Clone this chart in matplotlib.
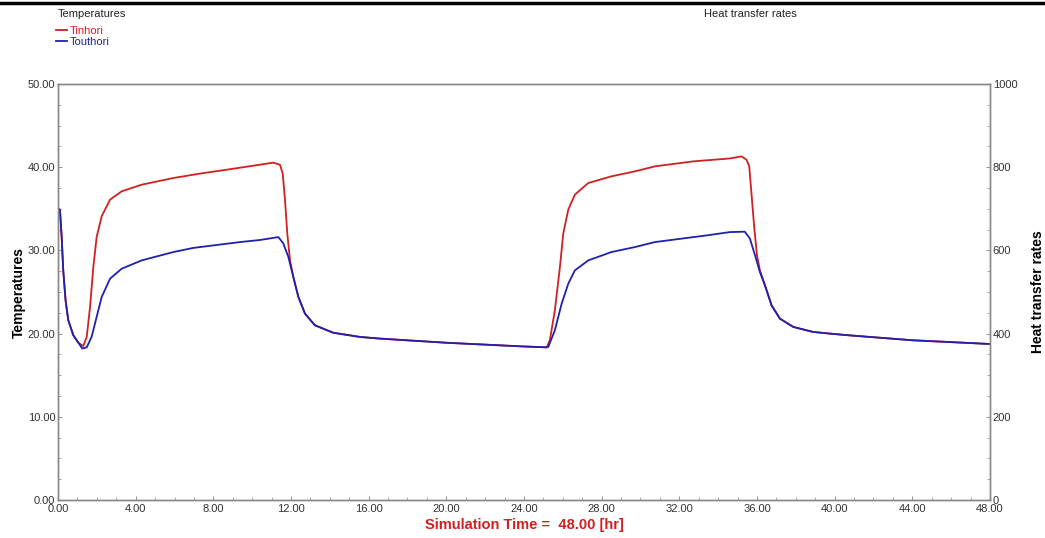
import numpy as np
import matplotlib
matplotlib.use("Agg")
import matplotlib.pyplot as plt
from matplotlib.ticker import MultipleLocator, FormatStrFormatter

plt.rcParams["font.family"] = ["Liberation Sans", "DejaVu Sans"]

# -------------------------------------------------------
# DATA
# -------------------------------------------------------
t_in = [0.0, 0.10, 0.19, 0.27, 0.39, 0.53, 0.79, 1.05, 1.3, 1.48, 1.65, 1.82,
        1.99, 2.25, 2.68, 3.28, 4.31, 5.94, 7.5, 8.69, 10.4, 11.09, 11.43,
        11.57, 11.69, 11.81, 11.95, 12.12, 12.38, 12.72, 13.23, 14.18, 15.55,
        16.57, 20.0, 24.0, 25.17, 25.33, 25.59, 25.85, 26.02, 26.28, 26.62,
        27.31, 28.5, 29.71, 30.74, 32.71, 34.6, 35.2, 35.46, 35.6, 35.72,
        35.86, 36.0, 36.15, 36.41, 36.75, 37.18, 37.87, 38.89, 39.75, 40.7,
        44.0, 48.0]
T_in = [35.0, 34.9, 31.6, 27.6, 24.0, 21.6, 19.8, 18.9, 18.5, 19.6, 23.2, 28.0,
        31.6, 34.1, 36.1, 37.1, 37.9, 38.7, 39.3, 39.7, 40.3, 40.55, 40.3,
        39.3, 36.1, 32.0, 28.8, 26.8, 24.4, 22.4, 21.0, 20.1, 19.6,
        19.4, 18.9, 18.45, 18.35, 19.2, 22.8, 28.0, 32.0, 34.9, 36.7,
        38.1, 38.9, 39.5, 40.1, 40.7, 41.05, 41.3, 40.9, 40.1, 36.7,
        32.7, 29.4, 27.6, 25.8, 23.4, 21.8, 20.8, 20.2, 20.0, 19.8,
        19.2, 18.75]

t_out = [0.0, 0.10, 0.19, 0.27, 0.39, 0.53, 0.79, 1.05, 1.25, 1.48, 1.73, 1.99,
         2.25, 2.68, 3.28, 4.31, 5.94, 6.97, 9.37, 10.4, 11.35, 11.6, 11.86,
         12.12, 12.38, 12.72, 13.23, 14.18, 15.55, 16.57, 20.0, 24.0, 25.17,
         25.25, 25.59, 25.94, 26.28, 26.62, 27.31, 28.5, 29.71, 30.74, 33.4,
         34.6, 35.37, 35.63, 35.9, 36.15, 36.41, 36.75, 37.18, 37.87, 38.89,
         39.75, 40.7, 44.0, 48.0]
T_out = [35.0, 34.9, 31.6, 27.6, 24.0, 21.6, 19.8, 18.9, 18.2, 18.35, 19.6, 22.0,
         24.4, 26.6, 27.8, 28.8, 29.8, 30.3, 31.0, 31.25, 31.6, 30.85, 29.25,
         26.8, 24.4, 22.4, 21.0, 20.1, 19.6, 19.4, 18.9, 18.45, 18.35,
         18.4, 20.4, 23.6, 26.0, 27.6, 28.8, 29.8, 30.4, 31.0, 31.8,
         32.2, 32.25, 31.45, 29.4, 27.4, 25.8, 23.4, 21.8, 20.8, 20.2,
         20.0, 19.8, 19.2, 18.75]

x_ticks = np.arange(0, 49, 4)
y_ticks = np.arange(0, 51, 10)
y2_ticks = np.arange(0, 1001, 200)

# -------------------------------------------------------
# PLOT
# -------------------------------------------------------
fig = plt.figure(figsize=(10.45, 5.38), dpi=100)
ax = fig.add_axes([58 / 1045, 1 - 500 / 538, 932 / 1045, 416 / 538])

red = "#d02020"
blue = "#2020b0"
ax.plot(t_in, T_in, color=red, lw=1.3, label="Tinhori")
ax.plot(t_out, T_out, color=blue, lw=1.3, label="Touthori")

ax.set_xlim(0, 48)
ax.set_ylim(0, 50)
ax.set_xticks(x_ticks)
ax.set_yticks(y_ticks)
ax.xaxis.set_minor_locator(MultipleLocator(1))
ax.yaxis.set_minor_locator(MultipleLocator(2.5))
ax.xaxis.set_major_formatter(FormatStrFormatter("%.2f"))
ax.yaxis.set_major_formatter(FormatStrFormatter("%.2f"))

ax2 = ax.twinx()
ax2.set_ylim(0, 1000)
ax2.set_yticks(y2_ticks)
ax2.yaxis.set_minor_locator(MultipleLocator(50))

for a in (ax, ax2):
    for s in a.spines.values():
        s.set_color("#888888")
        s.set_linewidth(1.0)
    a.tick_params(which="both", direction="in", colors="#999999",
                  labelcolor="#333333", labelsize=8, pad=2)
    a.tick_params(which="major", length=3)
    a.tick_params(which="minor", length=2)
ax.tick_params(axis="x", pad=3)

ax.set_ylabel("Temperatures", fontsize=10, fontweight="bold", labelpad=1)
ax2.set_ylabel("Heat transfer rates", fontsize=10, fontweight="bold", labelpad=10)
ax.set_xlabel("Simulation Time =  48.00 [hr]", fontsize=10.5, fontweight="bold",
              color=red, labelpad=3)

# header texts above the plot area
fig.text(58 / 1045, 1 - 14 / 538, "Temperatures", fontsize=8, color="#222222",
         va="center", ha="left")
fig.text(750 / 1045, 1 - 14 / 538, "Heat transfer rates", fontsize=8,
         color="#222222", va="center", ha="center")
ax.legend(loc="upper left", bbox_to_anchor=(50 / 1045, 1 - 20 / 538),
          bbox_transform=fig.transFigure, frameon=False, fontsize=8,
          handlelength=1.0, handletextpad=0.3, labelspacing=0.15,
          borderpad=0, labelcolor="linecolor")

# thick line across the top of the window
fig.add_artist(plt.Line2D([0, 1], [1 - 3 / 538, 1 - 3 / 538],
                          transform=fig.transFigure, color="black", lw=2.5))

plt.savefig("out.png", dpi=100)
plt.close()
